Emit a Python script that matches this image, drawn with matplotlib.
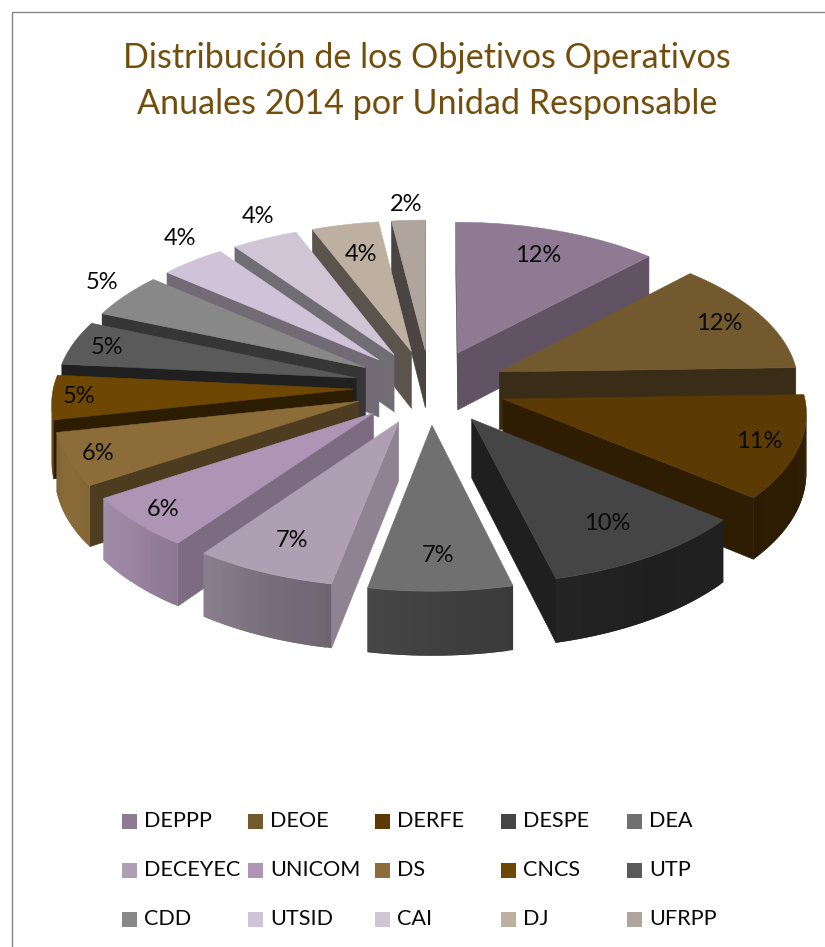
import numpy as np
import matplotlib
matplotlib.use('Agg')
import matplotlib.pyplot as plt
from matplotlib.colors import to_rgb
from matplotlib.patches import Rectangle

plt.rcParams['font.family'] = ['Lato', 'DejaVu Sans']

TITLE = 'Distribución de los Objetivos Operativos\nAnuales 2014 por Unidad Responsable'
units = ['DEPPP', 'DEOE', 'DERFE', 'DESPE', 'DEA',
         'DECEYEC', 'UNICOM', 'DS', 'CNCS', 'UTP',
         'CDD', 'UTSID', 'CAI', 'DJ', 'UFRPP']
shares = [12, 12, 11, 10, 7, 7, 6, 6, 5, 5, 5, 4, 4, 4, 2]
colors = ['#8E7A93', '#735A2E', '#5B3A04', '#454545', '#707070',
          '#AE9FB2', '#AE95B5', '#8C6C39', '#6E4703', '#5A5A5A',
          '#888888', '#D0C2D7', '#D0C5D5', '#BDB0A1', '#AFA59C']

# styling per slice
side_shade = [.68, .50, .50, .45, .60, .82, .72, .56, .40, .35, .40, .55, .55, .48, .42]
label_r = [.79, .84, .87, .77, .80, .80, .89, .90, .91, .88, 1.13, 1.17, 1.18, .75, 1.13]
label_da = [0, 0, 0, 0, 0, 0, 0, 0, 0, 0, 2, 4, 3, 0, 0]

# fake 3D view, pixels
CX, CY = 430, 387
R = 300
K = .488
P = .08
EXPLODE = .255
H = 58
WARP = 4


def warp(t):
    return t + WARP * np.sin(np.radians(t) / 2)**2


def project(r, t, t_mid, z=0):
    a = np.radians(warp(np.asarray(t, dtype=float)))
    m = np.radians(warp(t_mid))
    X = EXPLODE * np.sin(m) + r * np.sin(a)
    Y = EXPLODE * np.cos(m) + r * np.cos(a)
    s = 1 / (1 + P * Y)
    return CX + R * s * X, CY - R * K * s * Y + H * s * z


def area(xs, ys):
    xs, ys = np.asarray(xs), np.asarray(ys)
    return np.sum(xs * np.roll(ys, -1) - np.roll(xs, -1) * ys)


def face(ax, xs, ys, color, lw=.4):
    if area(xs, ys) < 0:
        ax.fill(xs, ys, facecolor=color, edgecolor=color if lw else 'none', lw=lw)


def shade(color, f):
    return tuple(np.array(to_rgb(color)) * f)


fig = plt.figure(figsize=(8.25, 9.47), dpi=100)
ax = fig.add_axes([0, 0, 1, 1])
ax.set_xlim(0, 825)
ax.set_ylim(947, 0)
ax.axis('off')

ax.add_patch(Rectangle((11.5, 11.5), 900, 1000, fill=False, ec='#868686', lw=1))
ax.text(427, 81, TITLE, ha='center', va='center', fontsize=24.6,
        color='#734D0B', linespacing=1.55)

edges = np.cumsum([0] + shares) / sum(shares) * 360
mids = (edges[:-1] + edges[1:]) / 2

# back slices first
for i in np.argsort(-np.cos(np.radians(mids))):
    t1, t2, tm = edges[i], edges[i + 1], mids[i]
    col = colors[i]
    ax_, ay_ = project(0, t1, tm)
    bx_, by_ = project(0, t1, tm, 1)

    x1, y1 = project(1, t1, tm)
    x1b, y1b = project(1, t1, tm, 1)
    x2, y2 = project(1, t2, tm)
    x2b, y2b = project(1, t2, tm, 1)
    side = shade(col, side_shade[i])
    face(ax, [ax_, x1, x1b, bx_], [ay_, y1, y1b, by_], side)
    face(ax, [x2, ax_, bx_, x2b], [y2, ay_, by_, y2b], side)

    # curved wall in short pieces, lit from the left
    # each piece runs under the next one so no seams show
    ts = np.linspace(t1, t2, int(t2 - t1) + 2)
    for a, b, end in zip(ts[:-1], ts[1:], np.r_[ts[2:], t2]):
        f = np.interp((a + b) / 2, [100, 144, 175, 200, 223, 245, 270],
                      [.50, .45, .57, .70, .88, 1.0, .8])
        xa, ya = project(1, a, tm)
        xb, yb = project(1, end, tm)
        xc, yc = project(1, end, tm, 1)
        xd, yd = project(1, a, tm, 1)
        face(ax, [xa, xb, xc, xd], [ya, yb, yc, yd], shade(col, f), lw=0)

    arc = np.linspace(t1, t2, 40)
    xs, ys = project(1, arc, tm)
    ax.fill(np.r_[ax_, xs], np.r_[ay_, ys], facecolor=col, edgecolor=col, lw=.4)

for i, share in enumerate(shares):
    x, y = project(label_r[i], mids[i] + label_da[i], mids[i])
    ax.text(x, y, f'{share}%', ha='center', va='center', fontsize=17, color='#0A0A0A')

# legend, 5 columns
for i, (name, col) in enumerate(zip(units, colors)):
    row, c = divmod(i, 5)
    x = 122 + 126.3 * c
    y = 821 + 49 * row
    ax.add_patch(Rectangle((x, y - 7.5), 15, 15, fc=col, ec='none'))
    ax.text(x + 22, y, name, ha='left', va='center', fontsize=15.6, color='#0A0A0A')

fig.savefig('out.png', dpi=100)
